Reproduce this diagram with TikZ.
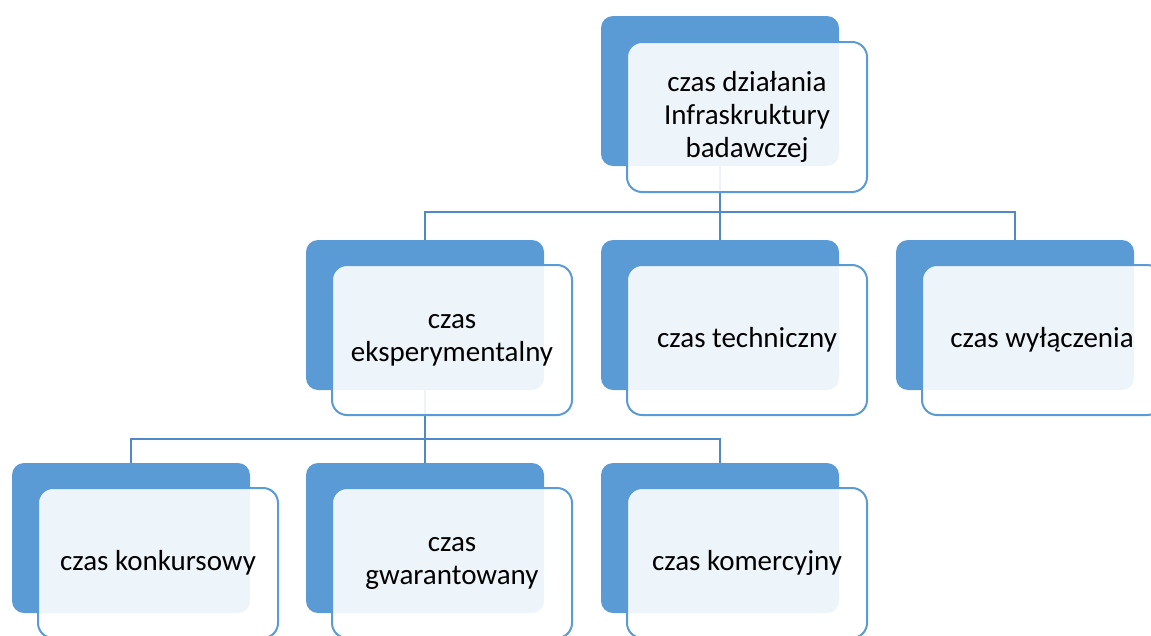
\documentclass[tikz,border=0pt]{standalone}
\usepackage{fontspec}
\setmainfont{Carlito}
\definecolor{accent}{HTML}{5B9BD5}
\definecolor{connc}{HTML}{5089C6}
\begin{document}
\begin{tikzpicture}[x=1pt,y=-1pt,
  back/.style={rectangle,rounded corners=12pt,fill=accent,minimum width=238pt,minimum height=150pt,inner sep=0pt},
  front/.style={rectangle,rounded corners=15pt,draw=accent,line width=2pt,fill=white,fill opacity=0.9,text opacity=1,
    minimum width=240pt,minimum height=150pt,inner sep=0pt,align=center,font=\fontsize{29}{33}\selectfont},
  conn/.style={draw=connc,line width=2pt}]
\clip (0,0) rectangle (1151,635);
\useasboundingbox (0,0) rectangle (1151,635);
% back boxes
\node[back] (dT) at (720,91) {};
\node[back] (dA) at (425,315) {};
\node[back] (dB) at (720,315) {};
\node[back] (dC) at (1015,315) {};
\node[back] (dD) at (131,538) {};
\node[back] (dE) at (425,538) {};
\node[back] (dF) at (720,538) {};
% connectors
\draw[conn] (dT.south) -- ++(0,46) coordinate (j1);
\draw[conn] (dA.north) |- (j1) -| (dC.north);
\draw[conn] (j1) -- (dB.north);
\draw[conn] (dA.south) -- ++(0,49) coordinate (j2);
\draw[conn] (dD.north) |- (j2) -| (dF.north);
\draw[conn] (j2) -- (dE.north);
% front boxes
\node[front] (fT) at (747,117) {czas działania\\Infraskruktury\\badawczej};
\node[front] (fA) at (452,340) {czas\\eksperymentalny};
\node[front] (fB) at (747,340) {czas techniczny};
\node[front] (fC) at (1042,340) {czas wyłączenia};
\node[front] (fD) at (158,563) {czas konkursowy};
\node[front] (fE) at (452,563) {czas\\gwarantowany};
\node[front] (fF) at (747,563) {czas komercyjny};
\end{tikzpicture}
\end{document}
